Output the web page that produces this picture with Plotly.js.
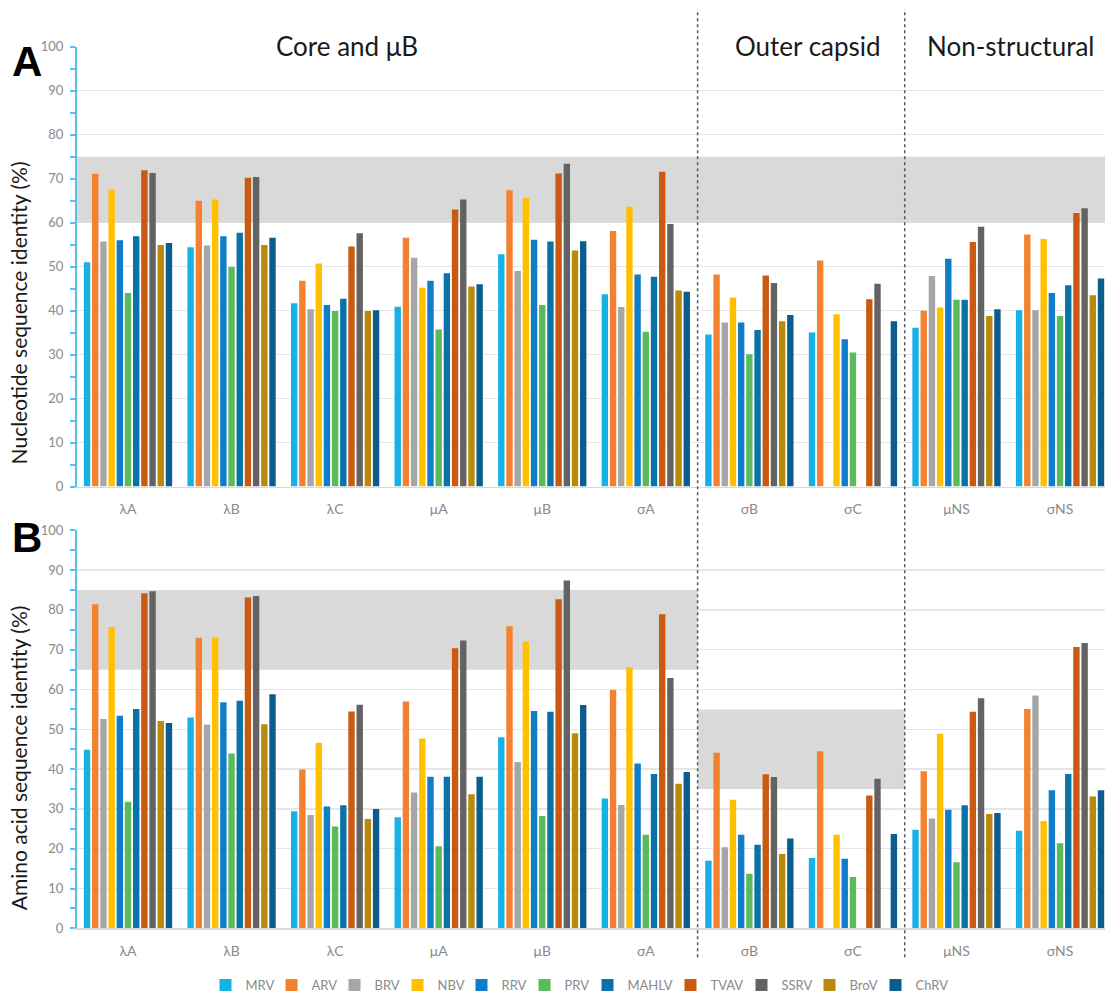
<!DOCTYPE html>
<html>
<head>
<meta charset="utf-8">
<script src="https://cdn.plot.ly/plotly-3.0.1.min.js"></script>
<style>html,body{margin:0;padding:0;overflow:hidden;background:#fff;}</style>
</head>
<body>
<div id="chart" style="width:1105px;height:1000px;"></div>
<script>
const categories = ['λA','λB','λC','μA','μB','σA','σB','σC','μNS','σNS'];
const seriesNames = ['MRV','ARV','BRV','NBV','RRV','PRV','MAHLV','TVAV','SSRV','BroV','ChRV'];
const seriesColors = ['#17B1E6','#F4812F','#A6A6A6','#FFC000','#0F7DC8','#5BBA5B','#0A73A6','#C95A10','#636363','#B88A0C','#0D5C8E'];

// Panel A: nucleotide sequence identity (%)
const ntMRV   = [51.0, 54.4, 41.7, 40.9, 52.8, 43.7, 34.6, 35.0, 36.1, 40.1];
const ntARV   = [71.1, 65.0, 46.8, 56.6, 67.4, 58.1, 48.2, 51.4, 40.0, 57.3];
const ntBRV   = [55.7, 54.8, 40.3, 52.0, 49.0, 40.8, 37.3, null, 47.9, 40.1];
const ntNBV   = [67.5, 65.3, 50.7, 45.2, 65.6, 63.6, 43.0, 39.2, 40.7, 56.3];
const ntRRV   = [56.0, 56.9, 41.3, 46.8, 56.1, 48.2, 37.3, 33.5, 51.8, 44.0];
const ntPRV   = [44.0, 49.9, 39.9, 35.7, 41.3, 35.2, 30.1, 30.5, 42.5, 38.8];
const ntMAHLV = [56.9, 57.7, 42.7, 48.5, 55.7, 47.7, 35.6, null, 42.5, 45.8];
const ntTVAV  = [71.9, 70.2, 54.6, 63.0, 71.2, 71.6, 48.0, 42.6, 55.6, 62.2];
const ntSSRV  = [71.3, 70.4, 57.6, 65.3, 73.4, 59.7, 46.3, 46.1, 59.1, 63.3];
const ntBroV  = [54.9, 54.9, 39.9, 45.5, 53.7, 44.6, 37.6, null, 38.8, 43.5];
const ntChRV  = [55.4, 56.6, 40.1, 46.0, 55.8, 44.3, 39.0, 37.6, 40.3, 47.3];

// Panel B: amino acid sequence identity (%)
const aaMRV   = [44.9, 53.0, 29.4, 27.9, 48.0, 32.6, 17.0, 17.7, 24.8, 24.5];
const aaARV   = [81.4, 73.0, 39.9, 57.0, 75.9, 59.9, 44.1, 44.5, 39.5, 55.1];
const aaBRV   = [52.6, 51.2, 28.5, 34.1, 41.8, 31.0, 20.4, null, 27.6, 58.5];
const aaNBV   = [75.7, 73.0, 46.6, 47.7, 72.1, 65.6, 32.3, 23.5, 48.9, 27.0];
const aaRRV   = [53.4, 56.8, 30.6, 38.1, 54.6, 41.4, 23.5, 17.5, 29.8, 34.7];
const aaPRV   = [31.8, 43.9, 25.6, 20.6, 28.2, 23.5, 13.7, 12.9, 16.6, 21.4];
const aaMAHLV = [55.1, 57.2, 30.9, 38.1, 54.4, 38.8, 21.0, null, 30.9, 38.8];
const aaTVAV  = [84.2, 83.1, 54.5, 70.4, 82.7, 78.9, 38.7, 33.4, 54.4, 70.7];
const aaSSRV  = [84.7, 83.5, 56.2, 72.3, 87.4, 62.9, 38.0, 37.6, 57.8, 71.7];
const aaBroV  = [52.1, 51.3, 27.5, 33.7, 49.0, 36.3, 18.7, null, 28.7, 33.1];
const aaChRV  = [51.6, 58.8, 30.0, 38.1, 56.1, 39.3, 22.6, 23.7, 29.0, 34.7];

const ntData = [ntMRV, ntARV, ntBRV, ntNBV, ntRRV, ntPRV, ntMAHLV, ntTVAV, ntSSRV, ntBroV, ntChRV];
const aaData = [aaMRV, aaARV, aaBRV, aaNBV, aaRRV, aaPRV, aaMAHLV, aaTVAV, aaSSRV, aaBroV, aaChRV];
const legendWidths = [21, 18, 18, 19, 18, 18, 38, 26, 23, 21, 34];

const FONT = 'Lato, "Open Sans", sans-serif';
const traces = [];
seriesNames.forEach((n, i) => {
  traces.push({type:'bar', name:n, x:categories, y:ntData[i], xaxis:'x', yaxis:'y',
    marker:{color:seriesColors[i]}, legendgroup:n, showlegend:true, legendwidth:legendWidths[i], hoverinfo:'y+name'});
});
seriesNames.forEach((n, i) => {
  traces.push({type:'bar', name:n, x:categories, y:aaData[i], xaxis:'x2', yaxis:'y2',
    marker:{color:seriesColors[i]}, legendgroup:n, showlegend:false, hoverinfo:'y+name'});
});

const L = 77, W = 1105, H = 1000;
const xp = px => (px - L) / (W - L);
const yp = py => 1 - py / H;

const yax = (dom) => ({
  domain: dom, range:[0,100], dtick:10, tick0:0, automargin:false,
  showline:true, linecolor:'#4DC3EE', linewidth:2,
  ticks:'outside', ticklen:5, tickwidth:2, tickcolor:'#4DC3EE', ticklabelstandoff:4,
  minor:{dtick:5, ticks:'outside', ticklen:5, tickwidth:2, tickcolor:'#4DC3EE', showgrid:false},
  showgrid:true, gridcolor:'#E6E6E6', gridwidth:1.5, zeroline:false,
  tickfont:{size:13, color:'#8A8A8A', family:FONT}, fixedrange:true
});
const xax = (anchor) => ({
  anchor: anchor, domain:[0,1], type:'category', range:[-0.4925, 9.434], automargin:false,
  showline:true, linecolor:'#D9D9D9', linewidth:1.5, ticks:'', showgrid:false, zeroline:false,
  ticklabelstandoff:9,
  tickfont:{size:14, color:'#8A8A8A', family:FONT}, fixedrange:true
});

const shapes = [
  {type:'rect', xref:'x', yref:'y', x0:-0.6, x1:9.6, y0:60, y1:75, fillcolor:'#D9D9D9', line:{width:0}, layer:'between'},
  {type:'rect', xref:'x2', yref:'y2', x0:-0.6, x1:5.5, y0:65, y1:85, fillcolor:'#D9D9D9', line:{width:0}, layer:'between'},
  {type:'rect', xref:'x2', yref:'y2', x0:5.5, x1:7.5, y0:35, y1:55, fillcolor:'#D9D9D9', line:{width:0}, layer:'between'},
  {type:'line', xref:'x', yref:'paper', x0:5.5, x1:5.5, y0:yp(962), y1:yp(9), line:{color:'#555555', width:1.5, dash:'dot'}, layer:'above'},
  {type:'line', xref:'x', yref:'paper', x0:7.5, x1:7.5, y0:yp(962), y1:yp(9), line:{color:'#555555', width:1.5, dash:'dot'}, layer:'above'}
];

const ann = (text, px, py, opts) => Object.assign({
  text:text, xref:'paper', yref:'paper', x:xp(px), y:yp(py), xanchor:'center', yanchor:'middle',
  showarrow:false, font:{family:FONT, size:26, color:'#1A1A1A'}
}, opts || {});

const annotations = [
  ann('<b>A</b>', 27, 62, {font:{family:'"Liberation Sans", Arial, sans-serif', size:42, color:'#000'}}),
  ann('<b>B</b>', 27, 540, {font:{family:'"Liberation Sans", Arial, sans-serif', size:42, color:'#000'}}),
  ann('Nucleotide sequence identity (%)', 18, 315, {textangle:-90, font:{family:FONT, size:21, color:'#1A1A1A'}}),
  ann('Amino acid sequence identity (%)', 18, 762, {textangle:-90, font:{family:FONT, size:21, color:'#1A1A1A'}}),
  ann('Core and μB', 347, 46, {bgcolor:'#FFFFFF'}),
  ann('Outer capsid', 808, 46, {bgcolor:'#FFFFFF'}),
  ann('Non-structural', 1010, 46, {bgcolor:'#FFFFFF'})
];

const layout = {
  width:W, height:H, margin:{l:L, r:0, t:0, b:0, pad:0},
  paper_bgcolor:'#FFFFFF', plot_bgcolor:'#FFFFFF',
  font:{family:FONT, color:'#333'},
  barmode:'group', bargap:0.13, bargroupgap:0.22,
  xaxis: xax('y'), xaxis2: xax('y2'),
  yaxis: yax([yp(489), yp(47)]), yaxis2: yax([yp(933), yp(533)]),
  shapes: shapes, annotations: annotations,
  showlegend:true,
  legend:{orientation:'h', x:xp(580), xanchor:'center', y:yp(990), yanchor:'middle',
    font:{family:FONT, size:13, color:'#8A8A8A'}, itemwidth:30, entrywidth:20, entrywidthmode:'pixels',
    traceorder:'normal', bgcolor:'rgba(0,0,0,0)'}
};

Plotly.newPlot('chart', traces, layout, {displayModeBar:false, staticPlot:true});
</script>
</body>
</html>
